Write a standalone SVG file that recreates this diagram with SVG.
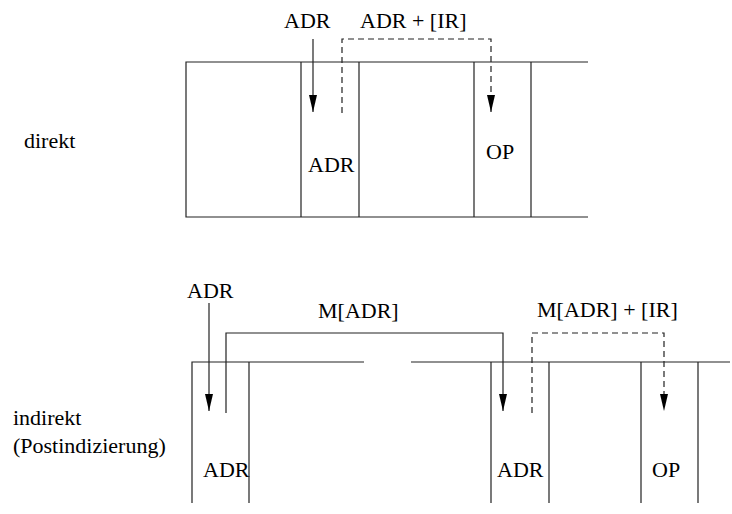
<svg xmlns="http://www.w3.org/2000/svg" width="732" height="514" viewBox="0 0 732 514">
<style>
.l{stroke:#222;stroke-width:1.2;fill:none}
.d{stroke:#222;stroke-width:1.2;fill:none;stroke-dasharray:6,4}
</style>
<defs>
<marker id="ah" markerUnits="userSpaceOnUse" viewBox="0 0 17 8" refX="17" refY="4" markerWidth="17" markerHeight="8" orient="auto">
<path d="M0,0 L17,4 L0,8 z" fill="#000"/>
</marker>
</defs>
<rect width="732" height="514" fill="#fff"/>
<g font-family="Liberation Serif, serif" font-size="22" fill="#000">
<g id="labels">
<text x="24" y="148">direkt</text>
<text x="13" y="425">indirekt</text>
<text x="13" y="453">(Postindizierung)</text>
</g>
<g id="memory-direct">
<path class="l" d="M588,62 H186 V217 H588"/>
<path class="l" d="M301,62 V217 M359,62 V217 M474,62 V217 M531,62 V217"/>
<text x="308" y="172">ADR</text>
<text x="486" y="159">OP</text>
</g>
<g id="memory-indirect">
<path class="l" d="M364,362 H192 V503 M249,362 V503 M411,362 H730"/>
<path class="l" d="M491,362 V503 M549,362 V503 M641,362 V503 M698,362 V503"/>
<text x="203" y="477">ADR</text>
<text x="497" y="477">ADR</text>
<text x="652" y="477">OP</text>
</g>
<g id="connectors">
<text x="284" y="28">ADR</text>
<text x="360" y="28">ADR + [IR]</text>
<path class="l" d="M313,39 V112" marker-end="url(#ah)"/>
<path class="d" d="M342,113 V39 H491 V112" marker-end="url(#ah)"/>
<text x="187" y="298">ADR</text>
<text x="318" y="318">M[ADR]</text>
<text x="537" y="317">M[ADR] + [IR]</text>
<path class="l" d="M209,303 V411" marker-end="url(#ah)"/>
<path class="l" d="M226,413 V333 H503 V411" marker-end="url(#ah)"/>
<path class="d" d="M532,413 V333 H664 V411" marker-end="url(#ah)"/>
</g>
</g>
</svg>
